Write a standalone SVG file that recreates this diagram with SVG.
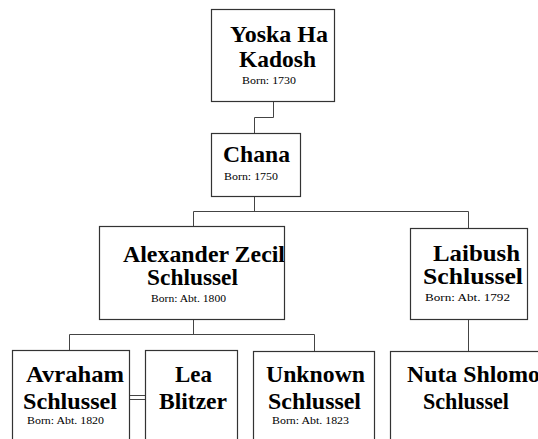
<svg xmlns="http://www.w3.org/2000/svg" width="538" height="439" viewBox="0 0 538 439">
<style>
.box{fill:#fff;stroke:#333;stroke-width:1.2}
.ln{fill:none;stroke:#444;stroke-width:1}
.t{font-family:"Liberation Serif","Times New Roman",serif;font-weight:bold;font-size:23px;fill:#000}
.b{font-family:"Liberation Serif","Times New Roman",serif;font-size:10.5px;fill:#000}
</style>
<defs>
<clipPath id="cAlex"><rect x="99" y="226" width="185" height="93"/></clipPath>
</defs>
<rect width="538" height="439" fill="#fff"/>
<g id="connectors">
<path class="ln" d="M273.5,101 V117.5 H254.5 V133"/>
<path class="ln" d="M254.5,196 V211.5 M193.5,211.5 H468.5 M193.5,211.5 V226 M468.5,211.5 V228"/>
<path class="ln" d="M193.5,319 V334.5 M69.5,334.5 H314.5 M69.5,334.5 V350 M314.5,334.5 V351"/>
<path class="ln" d="M468.5,319 V351"/>
<path class="ln" d="M129,395.5 H145 M129,399.5 H145"/>
</g>
<g id="yoska">
<rect class="box" x="211.5" y="9.5" width="123" height="92"/>
<text class="t" x="230" y="42" textLength="98" lengthAdjust="spacingAndGlyphs">Yoska Ha</text>
<text class="t" x="239" y="67" textLength="77" lengthAdjust="spacingAndGlyphs">Kadosh</text>
<text class="b" x="242" y="84" textLength="54" lengthAdjust="spacingAndGlyphs">Born: 1730</text>
</g>
<g id="chana">
<rect class="box" x="211.5" y="133.5" width="89" height="63"/>
<text class="t" x="223" y="162" textLength="67" lengthAdjust="spacingAndGlyphs">Chana</text>
<text class="b" x="224" y="180" textLength="54" lengthAdjust="spacingAndGlyphs">Born: 1750</text>
</g>
<g id="alexander">
<rect class="box" x="99.5" y="226.5" width="185" height="93"/>
<g clip-path="url(#cAlex)">
<text class="t" x="123" y="262" textLength="162" lengthAdjust="spacingAndGlyphs">Alexander Zecil</text>
</g>
<text class="t" x="147" y="285" textLength="91" lengthAdjust="spacingAndGlyphs">Schlussel</text>
<text class="b" x="151" y="302" textLength="75" lengthAdjust="spacingAndGlyphs">Born: Abt. 1800</text>
</g>
<g id="laibush">
<rect class="box" x="410.5" y="228.5" width="117" height="91"/>
<text class="t" x="433" y="261" textLength="87" lengthAdjust="spacingAndGlyphs">Laibush</text>
<text class="t" x="423" y="284" textLength="100" lengthAdjust="spacingAndGlyphs">Schlussel</text>
<text class="b" x="425" y="301" textLength="85" lengthAdjust="spacingAndGlyphs">Born: Abt. 1792</text>
</g>
<g id="avraham">
<rect class="box" x="12.5" y="350.5" width="117" height="100"/>
<text class="t" x="26" y="382" textLength="98" lengthAdjust="spacingAndGlyphs">Avraham</text>
<text class="t" x="23" y="409" textLength="94" lengthAdjust="spacingAndGlyphs">Schlussel</text>
<text class="b" x="27" y="424" textLength="77" lengthAdjust="spacingAndGlyphs">Born: Abt. 1820</text>
</g>
<g id="lea">
<rect class="box" x="145.5" y="350.5" width="92" height="100"/>
<text class="t" x="175" y="382" textLength="37" lengthAdjust="spacingAndGlyphs">Lea</text>
<text class="t" x="159" y="409" textLength="68" lengthAdjust="spacingAndGlyphs">Blitzer</text>
</g>
<g id="unknown">
<rect class="box" x="253.5" y="351.5" width="121" height="100"/>
<text class="t" x="266" y="382" textLength="99" lengthAdjust="spacingAndGlyphs">Unknown</text>
<text class="t" x="268" y="409" textLength="93" lengthAdjust="spacingAndGlyphs">Schlussel</text>
<text class="b" x="272" y="424" textLength="77" lengthAdjust="spacingAndGlyphs">Born: Abt. 1823</text>
</g>
<g id="nuta">
<rect class="box" x="390.5" y="351.5" width="160" height="100"/>
<text class="t" x="407" y="382" textLength="133" lengthAdjust="spacingAndGlyphs">Nuta Shlomo</text>
<text class="t" x="423" y="409" textLength="86" lengthAdjust="spacingAndGlyphs">Schlussel</text>
</g>
</svg>
